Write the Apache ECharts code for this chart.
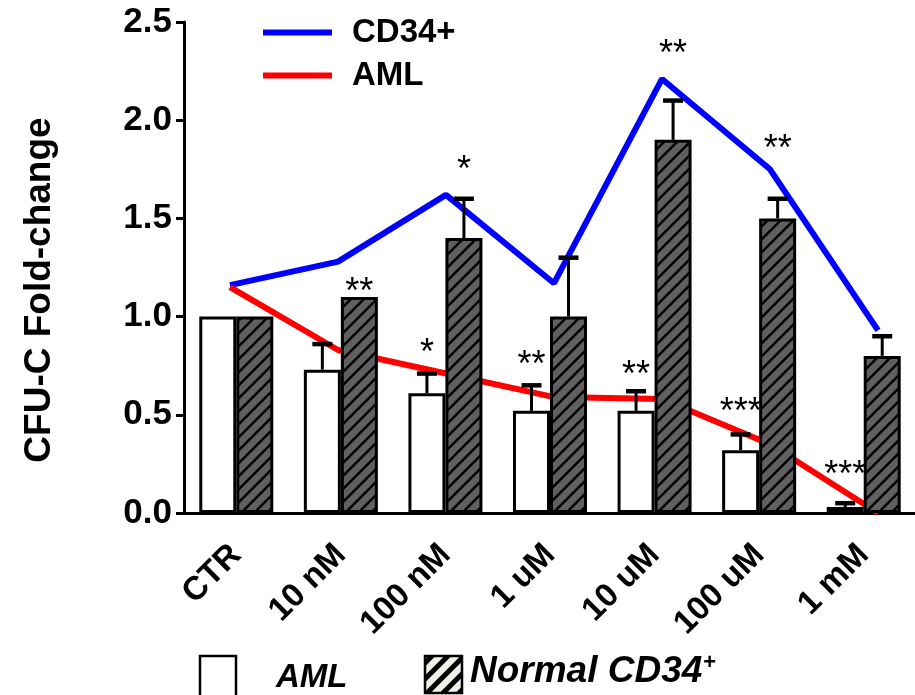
<!DOCTYPE html>
<html>
<head>
<meta charset="utf-8">
<script src="https://cdn.jsdelivr.net/npm/echarts@6/dist/echarts.min.js"></script>
<style>
  html, body { margin: 0; padding: 0; background: #fff; }
  #chart { width: 915px; height: 695px; }
</style>
</head>
<body>
<div id="chart"></div>
<script>
// Treatment groups on the x axis
const categories = ['CTR', '10 nM', '100 nM', '1 uM', '10 uM', '100 uM', '1 mM'];

// CFU-C fold-change (bars) with upper error
const amlBar   = [1.00, 0.73, 0.61, 0.52, 0.52, 0.32, 0.03];
const amlErr   = [null, 0.13, 0.10, 0.13, 0.10, 0.08, 0.02];
const cd34Bar  = [1.00, 1.10, 1.40, 1.00, 1.90, 1.50, 0.80];
const cd34Err  = [null, null, 0.20, 0.30, 0.20, 0.10, 0.10];

// Trend lines
const cd34Line = [1.16, 1.28, 1.62, 1.17, 2.21, 1.75, 0.93];
const amlLine  = [1.15, 0.83, 0.71, 0.59, 0.58, 0.35, 0.00];

// Significance marks and the value level each one sits at
const amlSig       = ['', '', '*', '**', '**', '***', '***'];
const amlSigLevel  = [null, null, 0.85, 0.79, 0.74, 0.55, 0.23];
const cd34Sig      = ['', '**', '*', '', '**', '**', ''];
const cd34SigLevel = [null, 1.16, 1.78, null, 2.37, 1.89, null];

// Value axis ticks
const yTicks = [0.0, 0.5, 1.0, 1.5, 2.0, 2.5];

const FONT = '"Liberation Sans", Arial, Helvetica, sans-serif';
const BAR_W = 37;

function hatch(fill, stroke, step, width) {
  const c = document.createElement('canvas');
  c.width = c.height = step;
  const g = c.getContext('2d');
  g.fillStyle = fill;
  g.fillRect(0, 0, step, step);
  g.strokeStyle = stroke;
  g.lineWidth = width;
  g.beginPath();
  g.moveTo(-2, step + 2); g.lineTo(step + 2, -2);
  g.moveTo(-2, 2); g.lineTo(2, -2);
  g.moveTo(step - 2, step + 2); g.lineTo(step + 2, step - 2);
  g.stroke();
  return { image: c, repeat: 'repeat' };
}

const barHatch = hatch('#606060', '#000', 13, 2.5);
const keyHatch = hatch('#f2f0e6', '#000', 16, 5);

function errorSeries(bars, errs, side) {
  const data = [];
  bars.forEach((v, i) => { if (errs[i] != null) data.push([i, v, v + errs[i]]); });
  return {
    type: 'custom', xAxisIndex: 0, yAxisIndex: 0, z: 6, silent: true,
    data,
    renderItem(params, api) {
      const lo = api.coord([api.value(0), api.value(1)]);
      const hi = api.coord([api.value(0), api.value(2)]);
      const x = lo[0] + side * BAR_W / 2;
      return {
        type: 'group',
        children: [
          { type: 'line', shape: { x1: x, y1: lo[1], x2: x, y2: hi[1] }, style: { stroke: '#000', lineWidth: 3 } },
          { type: 'line', shape: { x1: x - 10, y1: hi[1], x2: x + 10, y2: hi[1] }, style: { stroke: '#000', lineWidth: 4.5 } }
        ]
      };
    }
  };
}

function sigSeries(marks, levels, side) {
  const data = [];
  marks.forEach((m, i) => { if (m) data.push([i, levels[i], m]); });
  return {
    type: 'custom', xAxisIndex: 0, yAxisIndex: 0, z: 7, silent: true,
    data,
    renderItem(params, api) {
      const p = api.coord([api.value(0), api.value(1)]);
      return {
        type: 'text',
        x: p[0] + side * BAR_W / 2,
        y: p[1] + 8,
        style: {
          text: data[params.dataIndex][2],
          font: '36px ' + FONT,
          fill: '#000',
          align: 'center',
          verticalAlign: 'middle'
        }
      };
    }
  };
}

const chart = echarts.init(document.getElementById('chart'), null, { renderer: 'canvas' });

chart.setOption({
  animation: false,
  backgroundColor: '#fff',
  grid: [
    { left: 184, top: 22, width: 732, height: 491, outerBoundsMode: 'none' },
    { left: 176, top: 22, width: 756, height: 491, outerBoundsMode: 'none' }
  ],
  xAxis: [
    {
      type: 'category', gridIndex: 0, data: categories,
      axisLine: { lineStyle: { color: '#000', width: 3 } },
      axisTick: { alignWithLabel: true, length: 10, lineStyle: { color: '#000', width: 3 } },
      axisLabel: {
        rotate: 45, margin: 37, color: '#000', fontFamily: FONT,
        fontSize: 33, fontWeight: 'bold', interval: 0
      },
      splitLine: { show: false }
    },
    {
      type: 'category', gridIndex: 1, data: categories, show: false
    }
  ],
  yAxis: [
    {
      type: 'value', gridIndex: 0, min: 0, max: 2.5, interval: 0.5,
      axisLine: { show: true, lineStyle: { color: '#000', width: 3 } },
      axisTick: { show: true, length: 8, lineStyle: { color: '#000', width: 3 } },
      axisLabel: {
        margin: 12, color: '#000', fontFamily: FONT, fontSize: 35, fontWeight: 'bold',
        formatter: v => yTicks.includes(v) ? v.toFixed(1) : ''
      },
      splitLine: { show: false }
    },
    {
      type: 'value', gridIndex: 1, min: 0, max: 2.5, show: false
    }
  ],
  legend: {
    data: ['CD34+', 'AML'],
    orient: 'vertical',
    left: 263, top: 16, padding: 0,
    icon: 'rect',
    itemWidth: 69, itemHeight: 6, itemGap: 10,
    selectedMode: false,
    textStyle: {
      color: '#000', fontFamily: FONT, fontSize: 33, fontWeight: 'bold',
      lineHeight: 30, padding: [0, 0, 0, 15]
    }
  },
  series: [
    {
      name: 'CD34+', type: 'line', xAxisIndex: 1, yAxisIndex: 1, z: 1,
      data: cd34Line, color: '#0000ff', symbol: 'none',
      lineStyle: { color: '#0000ff', width: 6 }
    },
    {
      name: 'AML', type: 'line', xAxisIndex: 1, yAxisIndex: 1, z: 1,
      data: amlLine, color: '#ff0000', symbol: 'none',
      lineStyle: { color: '#ff0000', width: 6 }
    },
    {
      name: 'AML colonies', type: 'bar', xAxisIndex: 0, yAxisIndex: 0, z: 4,
      data: amlBar, barWidth: BAR_W, barGap: '0%',
      itemStyle: { color: '#fff', borderColor: '#000', borderWidth: 3 }
    },
    {
      name: 'Normal CD34+ colonies', type: 'bar', xAxisIndex: 0, yAxisIndex: 0, z: 4,
      data: cd34Bar, barWidth: BAR_W, barGap: '0%',
      itemStyle: { color: barHatch, borderColor: '#000', borderWidth: 3 }
    },
    errorSeries(amlBar, amlErr, -1),
    errorSeries(cd34Bar, cd34Err, 1),
    sigSeries(amlSig, amlSigLevel, -1),
    sigSeries(cd34Sig, cd34SigLevel, 1)
  ],
  graphic: [
    {
      type: 'text', x: 40, y: 290, rotation: Math.PI / 2,
      style: {
        text: 'CFU-C Fold-change', font: 'bold 37px ' + FONT, fill: '#000',
        align: 'center', verticalAlign: 'middle'
      }
    },
    {
      type: 'rect', shape: { x: 200, y: 656, width: 36, height: 50 },
      style: { fill: '#fff', stroke: '#000', lineWidth: 2.5 }
    },
    {
      type: 'text', x: 276, y: 678,
      style: {
        text: 'AML', font: 'italic bold 33px ' + FONT, fill: '#000',
        align: 'left', verticalAlign: 'middle'
      }
    },
    {
      type: 'rect', shape: { x: 425, y: 656, width: 37, height: 37 },
      style: { fill: keyHatch, stroke: '#000', lineWidth: 2.5 }
    },
    {
      type: 'text', x: 470, y: 672,
      style: {
        text: '{a|Normal CD34}{s|+}',
        align: 'left', verticalAlign: 'middle',
        rich: {
          a: { font: 'italic bold 37px ' + FONT, fill: '#000' },
          s: { font: 'bold 22px ' + FONT, fill: '#000', verticalAlign: 'top', padding: [0, 0, 18, 1] }
        }
      }
    }
  ]
});
</script>
</body>
</html>
